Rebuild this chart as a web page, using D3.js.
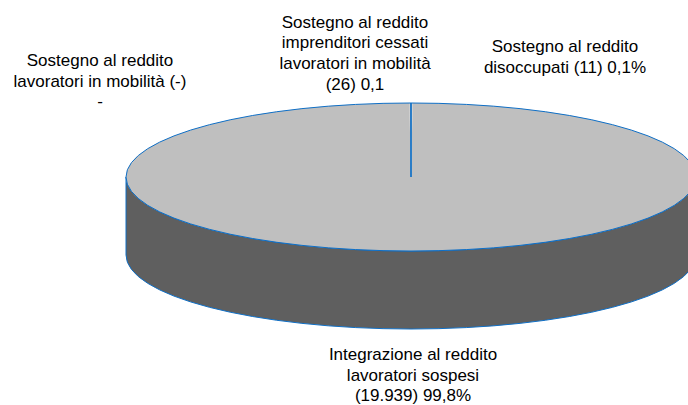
<!DOCTYPE html>
<html lang="en">
<head>
  <meta charset="UTF-8">
  <title>Sostegno al reddito</title>
  <style>
    body { margin: 0; background: #fff; }
    svg { display: block; }
    text { font-family: "Liberation Sans", Arial, sans-serif; font-size: 17px; fill: #000; }
  </style>
</head>
<body>
  <script src="https://d3js.org/d3.v7.min.js"></script>
  <script>
    let categories = ["Sostegno al reddito lavoratori in mobilità", "Sostegno al reddito imprenditori cessati lavoratori in mobilità", "Sostegno al reddito disoccupati", "Integrazione al reddito lavoratori sospesi"];
    let values = [0, 26, 11, 19939];
    let labels = [
      ["Sostegno al reddito", "lavoratori in mobilità (-)", "-"],
      ["Sostegno al reddito", "imprenditori cessati", "lavoratori in mobilità", "(26) 0,1"],
      ["Sostegno al reddito", "disoccupati (11) 0,1%"],
      ["Integrazione al reddito", "lavoratori sospesi", "(19.939) 99,8%"]
    ];
    let labelCentres = [[100, 61], [355, 22.5], [565, 47], [413, 355]];

    let svgWidth = 688;
    let svgHeight = 405;

    // Pie geometry
    let cx = 411;
    let cy = 177;
    let rx = 285;
    let ry = 74;
    let depth = 78;
    let lineColor = "#0f6fc6";

    let svg = d3.select("body")
      .append("svg")
      .attr("width", svgWidth)
      .attr("height", svgHeight);

    // Side wall of the disc
    let wall = `M${cx - rx},${cy} A${rx},${ry} 0 0 0 ${cx + rx},${cy} L${cx + rx},${cy + depth} A${rx},${ry} 0 0 1 ${cx - rx},${cy + depth} Z`;
    svg.append("path")
      .attr("d", wall)
      .attr("fill", "#5f5f5f")
      .attr("stroke", lineColor)
      .attr("stroke-width", 1);

    // Small slices straddle the top of the pie
    let total = d3.sum(values);
    let smallAngle = (values[0] + values[1] + values[2]) / total * 2 * Math.PI;
    let pie = d3.pie().sort(null).value(d => d)
      .startAngle(-smallAngle / 2)
      .endAngle(2 * Math.PI - smallAngle / 2);
    let arc = d3.arc().innerRadius(0).outerRadius(rx);

    // Pie slices, drawn on a circle and squashed into the ellipse
    let topFace = svg.append("g")
      .attr("transform", `translate(${cx}, ${cy}) scale(1, ${ry / rx})`);

    topFace.selectAll(".slice")
      .data(pie(values))
      .enter()
      .append("path")
      .attr("class", "slice")
      .attr("d", arc)
      .attr("fill", "#bfbfbf");

    // Outline of the top face
    topFace.append("path")
      .attr("d", arc({ startAngle: 0, endAngle: 2 * Math.PI }))
      .attr("fill", "none")
      .attr("stroke", lineColor)
      .attr("stroke-width", 1)
      .attr("vector-effect", "non-scaling-stroke");

    // The small slices are too thin to show apart, so they read as one line
    topFace.append("path")
      .attr("d", d3.lineRadial()([[0, 0], [0, rx]]))
      .attr("fill", "none")
      .attr("stroke", lineColor)
      .attr("stroke-width", 1.7)
      .attr("vector-effect", "non-scaling-stroke");

    // Labels
    let labelGroups = svg.selectAll(".label")
      .data(labels)
      .enter()
      .append("text")
      .attr("class", "label")
      .attr("text-anchor", "middle");

    labelGroups.selectAll("tspan")
      .data((d, i) => d.map(line => ({ line, x: labelCentres[i][0], y: labelCentres[i][1] })))
      .enter()
      .append("tspan")
      .attr("x", d => d.x)
      .attr("y", (d, i) => d.y + i * 20.7 + 5)
      .text(d => d.line);
  </script>
</body>
</html>
